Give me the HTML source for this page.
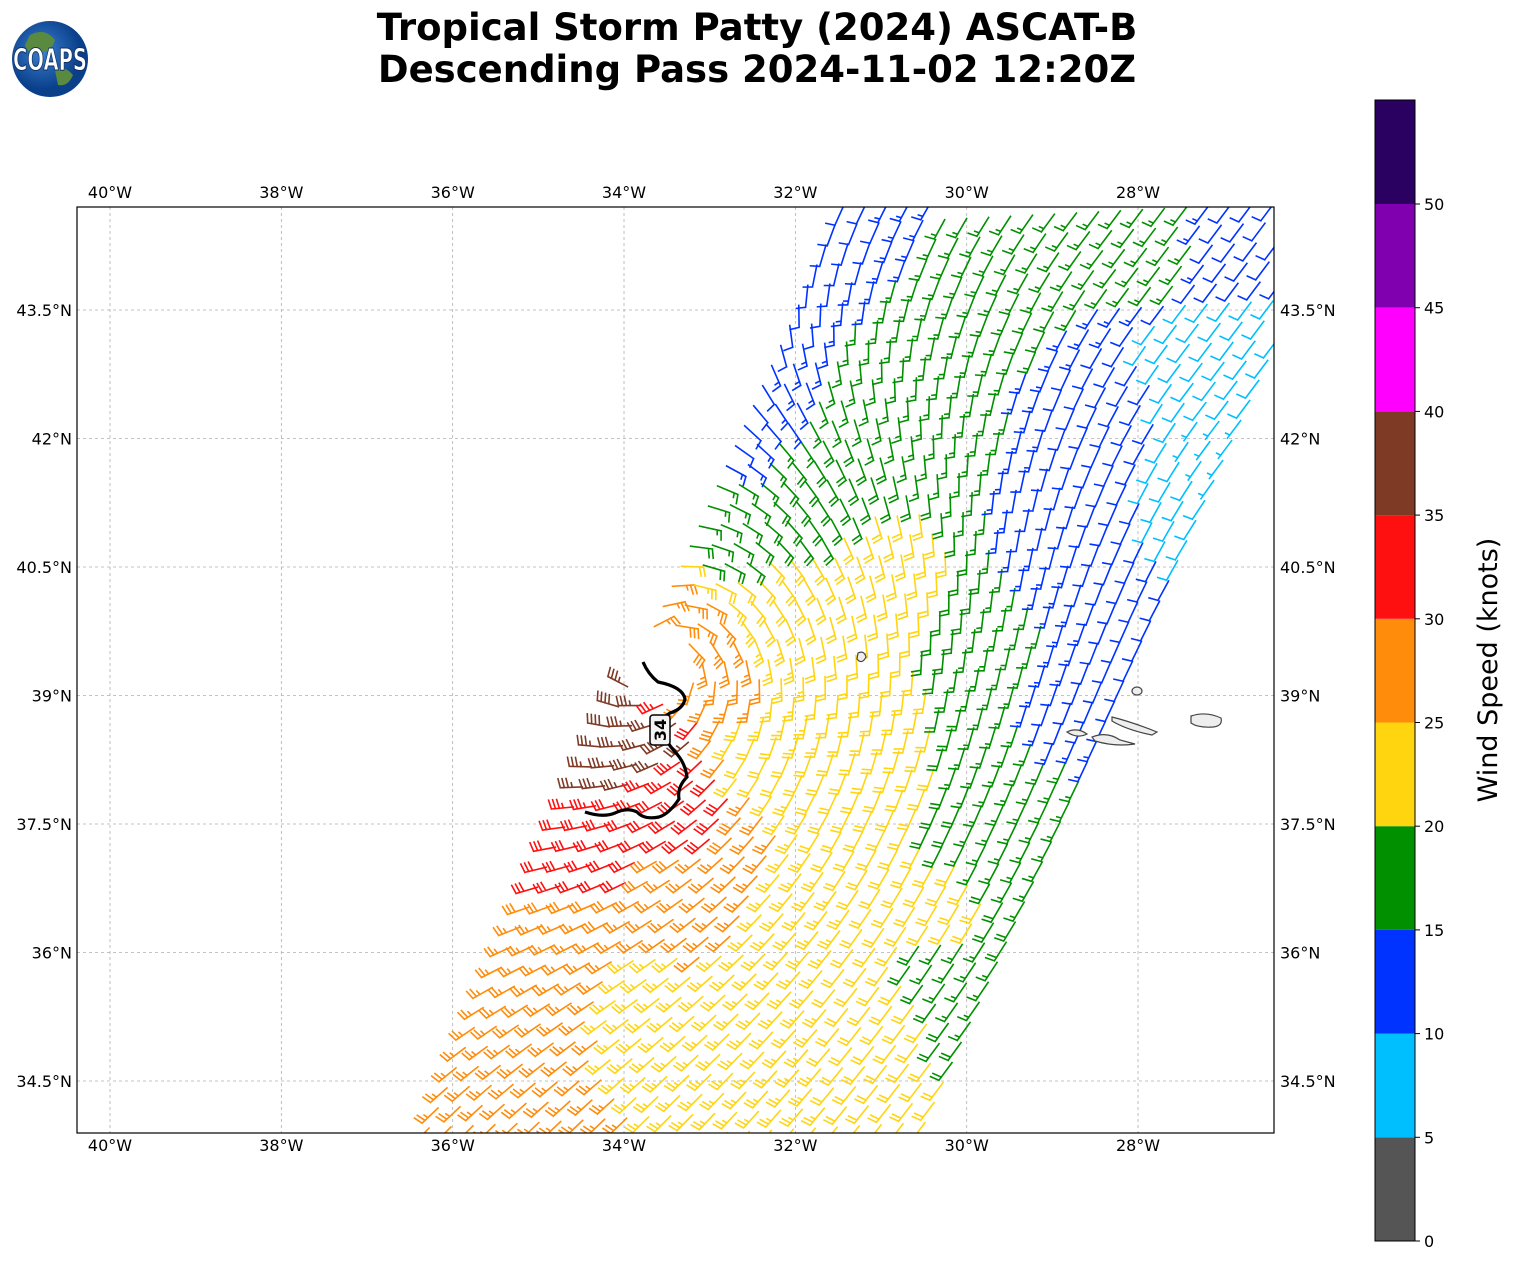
<!DOCTYPE html>
<html><head><meta charset="utf-8"><style>
body{margin:0;background:#fff;width:1513px;height:1264px;overflow:hidden;font-family:"Liberation Sans","DejaVu Sans",sans-serif}
</style></head><body>
<svg id="s" width="1513" height="1264" xmlns="http://www.w3.org/2000/svg" font-family="DejaVu Sans, Liberation Sans, sans-serif">
<defs><clipPath id="c"><rect x="77" y="207" width="1197" height="926"/></clipPath>
<radialGradient id="g" cx="0.4" cy="0.4"><stop offset="0" stop-color="#3a7fd0"/><stop offset="1" stop-color="#0a3f8a"/></radialGradient></defs>
<circle cx="50" cy="59" r="38" fill="url(#g)"/>
<path d="M30 35 q15 -8 25 5 q-5 15 -15 10 q-10 8 -15 -5z M55 70 q10 -5 18 5 q-5 12 -15 10z" fill="#5a8a40"/>
<text x="50" y="70" font-size="30" font-weight="bold" fill="#fff" stroke="#103060" stroke-width="1" text-anchor="middle" textLength="74" lengthAdjust="spacingAndGlyphs">COAPS</text>
<text x="757" y="40" font-size="37" font-weight="bold" text-anchor="middle">Tropical Storm Patty (2024) ASCAT-B</text>
<text x="757" y="82" font-size="37" font-weight="bold" text-anchor="middle">Descending Pass 2024-11-02 12:20Z</text>
<g id="grid" stroke="#b0b0b0" stroke-width="0.8" stroke-dasharray="3,3"></g>
<g id="bars" clip-path="url(#c)" fill="none" stroke-width="1.6" stroke-linecap="square"></g>
<g fill="#eee" stroke="#444" stroke-width="1.2">
<path d="M1191 716 q15 -5 30 2 q2 8 -8 9 q-15 1 -22 -4z"/>
<path d="M1112 717 q20 5 45 15 l-5 3 q-25 -5 -40 -14z"/>
<path d="M1092 737 q15 -6 28 3 l15 4 q-20 3 -40 -3z"/>
<path d="M1067 732 q10 -5 20 2 q-10 5 -20 -2z"/>
<ellipse cx="1137" cy="691" rx="5" ry="4"/>
<path d="M858 653 q6 -3 8 4 q-4 8 -9 2z"/>
</g>
<path d="M643 662 q5 12 15 20 q25 5 27 17 q-2 10 -15 14 q-8 5 -10 14 q6 15 15 25 q10 10 12 25 q-10 10 -8 22 q-10 15 -20 18 q-15 3 -22 -5 q-10 -5 -22 1 q-12 5 -30 -1" fill="none" stroke="#000" stroke-width="3.2"/>
<rect x="650" y="715" width="20" height="30" rx="3" fill="#f4f4f4" stroke="#000" stroke-width="1.5"/>
<text transform="translate(666,730) rotate(-90)" font-size="16" font-weight="bold" text-anchor="middle">34</text>
<rect x="77" y="207" width="1197" height="926" fill="none" stroke="#000" stroke-width="1.2"/>
<g id="labs" font-size="16"></g>
<g id="cb"></g>
<text transform="translate(1497,670) rotate(-90)" font-size="27" text-anchor="middle">Wind Speed (knots)</text>
</svg>
<script>
var ns='http://www.w3.org/2000/svg';
function add(p,tag,a,t){var e=document.createElementNS(ns,tag);for(var k in a)e.setAttribute(k,a[k]);if(t)e.textContent=t;document.getElementById(p).appendChild(e);}
var lons=[40,38,36,34,32,30,28],lats=[43.5,42,40.5,39,37.5,36,34.5];
lons.forEach(function(L){var x=110+(40-L)*85.67;add('grid','line',{x1:x,y1:207,x2:x,y2:1133});
add('labs','text',{x:x,y:198,'text-anchor':'middle'},L+'°W');add('labs','text',{x:x,y:1151,'text-anchor':'middle'},L+'°W');});
lats.forEach(function(L){var y=310+(43.5-L)*85.67;add('grid','line',{x1:77,y1:y,x2:1274,y2:y});
add('labs','text',{x:72,y:y+6,'text-anchor':'end'},L+'°N');add('labs','text',{x:1280,y:y+6},L+'°N');});
var cols=['#555555','#00bfff','#0033ff','#009000','#ffd510','#ff8c0a','#ff1010','#7f3a25','#ff00ff','#8000b0','#2a0060'];
for(var i=0;i<11;i++){var y0=1241-(i+1)*103.7;add('cb','rect',{x:1375,y:y0,width:40,height:103.7,fill:cols[i]});}
add('cb','rect',{x:1375,y:100,width:40,height:1141,fill:'none',stroke:'#000'});
for(var i=0;i<=10;i++){var y=1241-i*103.7;add('cb','line',{x1:1415,y1:y,x2:1420,y2:y,stroke:'#000'});add('cb','text',{x:1424,y:y+6,'font-size':16},''+i*5);}
var cp=[[600,720,38],[580,760,37],[630,680,37],[610,770,37],[660,740,36],[560,850,32],[620,820,32],[700,800,31],[700,680,27],[640,620,27],
[500,1000,27],[450,1080,26],[560,950,27],[650,1000,24],[700,900,26],[760,980,24],
[850,650,22],[900,750,22],[850,800,22],[950,900,22],[800,950,23],[880,1000,22],[800,600,22],[760,760,22],[900,550,21],
[780,300,12],[830,240,12],[740,420,12],[1080,700,12],[1130,600,12],[1100,400,12],[1050,500,12],[1250,250,12],
[1200,350,8],[1230,450,7],[1200,550,8],[1250,320,8],
[900,350,17],[1000,300,17],[1150,250,17],[950,450,17],[1000,650,17],[980,750,17],[1000,850,16],[720,520,17],[800,480,18],[1050,800,16],[960,970,16]];
function spd(x,y){var sw=0,sv=0;cp.forEach(function(c){var d=(x-c[0])*(x-c[0])+(y-c[1])*(y-c[1])+100;var w=1/(d*d);sw+=w;sv+=w*c[2];});return sv/sw;}
function col(v){return cols[Math.max(0,Math.min(10,Math.floor(v/5)))];}
var cx=660,cy=660,out='';
var a=[0.41,-0.912],b=[0.998,-0.05],st=22;
for(var i=-2;i<56;i++)for(var j=0;j<24;j++){
var x=438+i*st*a[0]+j*st*b[0],y=1108+i*st*a[1]+j*st*b[1];
if(x<70||x>1285||y<200||y>1140)continue;
var rx=x-cx,ry=y-cy,r=Math.hypot(rx,ry);if(r<30)continue;
var tx=ry/r,ty=-rx/r;var wx=tx-0.35*rx/r,wy=ty-0.35*ry/r;
var far=Math.min(1,r/600);wx=wx*(1-far)+0.6*far;wy=wy*(1-far)-0.8*far;
var wl=Math.hypot(wx,wy);wx/=wl;wy/=wl;
var sx=-wx,sy=-wy;var v=spd(x,y),k=Math.round(v/5)*5;var c=col(v);
var L=22,ex=x+sx*L,ey=y+sy*L;var d='M'+x.toFixed(1)+' '+y.toFixed(1)+'L'+ex.toFixed(1)+' '+ey.toFixed(1);
var nx=-sy,ny=sx;var px=ex,py=ey,full=Math.floor(k/10),half=(k%10)>=5;
if(full==0&&half){px-=sx*4;py-=sy*4;}
for(var f=0;f<full;f++){d+='M'+px.toFixed(1)+' '+py.toFixed(1)+'l'+(nx*9+sx*2).toFixed(1)+' '+(ny*9+sy*2).toFixed(1);px-=sx*4;py-=sy*4;}
if(half)d+='M'+px.toFixed(1)+' '+py.toFixed(1)+'l'+(nx*4.5+sx*1).toFixed(1)+' '+(ny*4.5+sy*1).toFixed(1);
out+='<path d="'+d+'" stroke="'+c+'"/>';}
document.getElementById('bars').innerHTML=out;
</script>
</body></html>
